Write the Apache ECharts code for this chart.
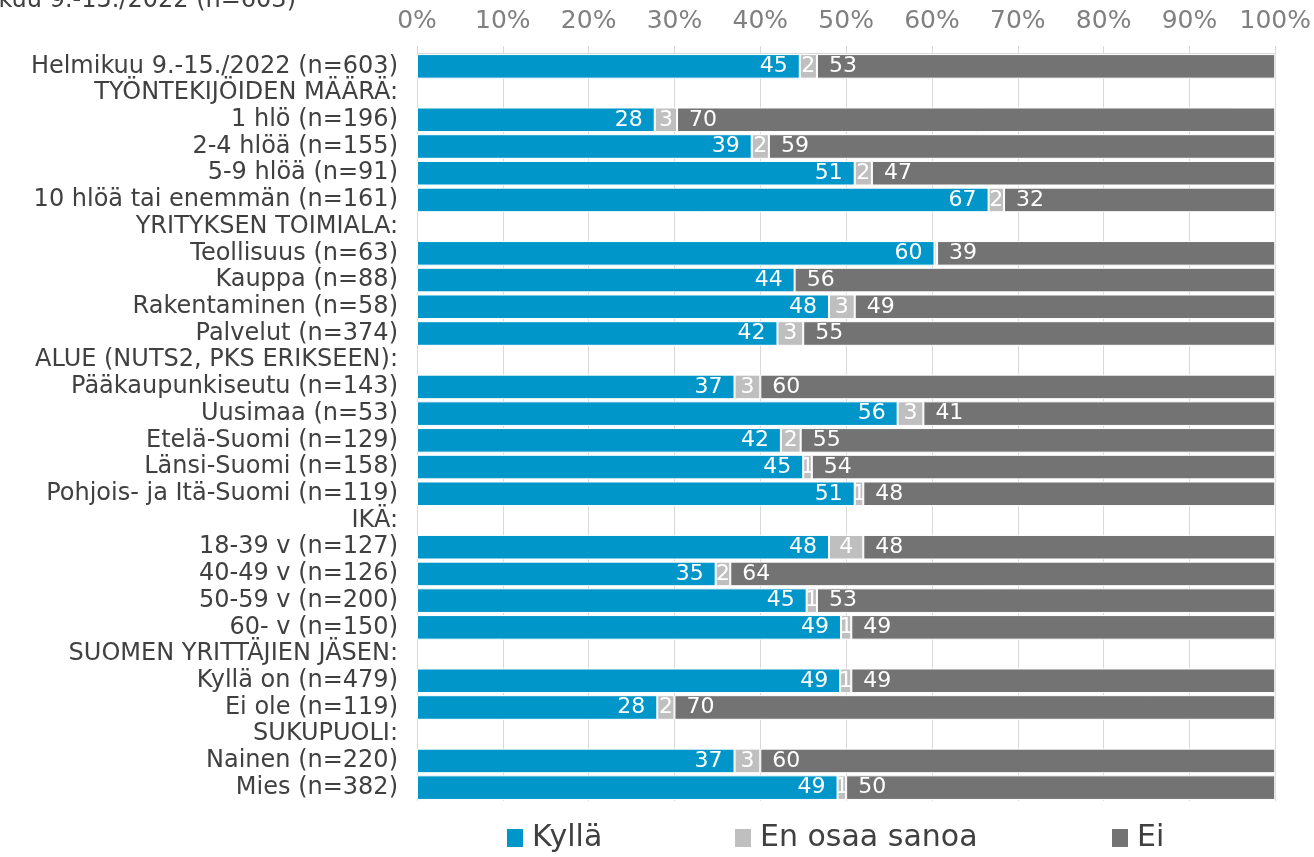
<!DOCTYPE html>
<html>
<head>
<meta charset="utf-8">
<script src="https://cdn.jsdelivr.net/npm/echarts@6/dist/echarts.min.js"></script>
<style>
  html, body { margin: 0; padding: 0; background: #fff; }
  #chart { width: 1314px; height: 857px; }
</style>
</head>
<body>
<div id="chart"></div>
<script>
var categories = [
  "Helmikuu 9.-15./2022 (n=603)",
  "TYÖNTEKIJÖIDEN MÄÄRÄ:",
  "1 hlö (n=196)",
  "2-4 hlöä (n=155)",
  "5-9 hlöä (n=91)",
  "10 hlöä tai enemmän (n=161)",
  "YRITYKSEN TOIMIALA:",
  "Teollisuus (n=63)",
  "Kauppa (n=88)",
  "Rakentaminen (n=58)",
  "Palvelut (n=374)",
  "ALUE (NUTS2, PKS ERIKSEEN):",
  "Pääkaupunkiseutu (n=143)",
  "Uusimaa (n=53)",
  "Etelä-Suomi (n=129)",
  "Länsi-Suomi (n=158)",
  "Pohjois- ja Itä-Suomi (n=119)",
  "IKÄ:",
  "18-39 v (n=127)",
  "40-49 v (n=126)",
  "50-59 v (n=200)",
  "60- v (n=150)",
  "SUOMEN YRITTÄJIEN JÄSEN:",
  "Kyllä on (n=479)",
  "Ei ole (n=119)",
  "SUKUPUOLI:",
  "Nainen (n=220)",
  "Mies (n=382)"
];

// percentages, estimated unrounded; "-" = header row without a bar
var kylla  = [44.6, "-", 27.7, 39, 51, 66.6, "-", 60.3, 44, 48, 42, "-", 37, 56, 42.4, 45, 51, "-", 48, 34.8, 45.4, 49.4, "-", 49.3, 28, "-", 37, 49];
var enOsaa = [2.0, "-", 2.6, 2, 2, 1.8, "-", 0.3, 0, 3, 3, "-", 3, 3, 2.3, 1, 1, "-", 4, 1.7, 1.2, 1.2, "-", 1.3, 2, "-", 3, 1];
var ei     = [53.4, "-", 69.7, 59, 47, 31.6, "-", 39.4, 56, 49, 55, "-", 60, 41, 55.3, 54, 48, "-", 48, 63.5, 53.4, 49.4, "-", 49.4, 70, "-", 60, 50];

var legendNames = ["Kyllä", "En osaa sanoa", "Ei"];
var colors = ["#0096c9", "#bfbfbf", "#737373"];

var FONT = "DejaVu Sans";

function lbl(v) {
  var n = Math.round(v.value);
  return n > 0 ? String(n) : "";
}

function barSeries(name, data, color, pos) {
  return {
    name: name,
    type: "bar",
    stack: "total",
    data: data,
    barCategoryGap: "8%",
    itemStyle: { color: color, borderColor: "#ffffff", borderWidth: 1 },
    label: {
      show: true,
      position: pos,
      distance: pos === "inside" ? 5 : 12,
      color: "#ffffff",
      fontFamily: FONT,
      fontSize: 22,
      formatter: lbl
    },
    emphasis: { disabled: true }
  };
}

function legendAt(name, x) {
  return {
    left: x,
    top: 823,
    padding: 0,
    itemWidth: 16,
    itemHeight: 18,
    icon: "rect",
    selectedMode: false,
    itemStyle: { borderWidth: 0 },
    textStyle: { fontFamily: FONT, fontSize: 30, color: "#404040", padding: [0, 0, 0, 4] },
    data: [name]
  };
}

var myChart = echarts.init(document.getElementById("chart"));

var option = {
  animation: false,
  backgroundColor: "#ffffff",
  grid: { left: 417, right: 37, top: 53, bottom: 56, containLabel: false },
  graphic: [
    {
      type: "text",
      right: 1314 - 296,
      top: -11,
      style: {
        text: "Helmikuu 9.-15./2022 (n=603)",
        fontFamily: FONT,
        fontSize: 24,
        fill: "#404040"
      }
    }
  ],
  legend: [
    legendAt(legendNames[0], 507),
    legendAt(legendNames[1], 735),
    legendAt(legendNames[2], 1112)
  ],
  xAxis: {
    type: "value",
    position: "top",
    min: 0,
    max: 100,
    interval: 10,
    axisLine: { show: true, lineStyle: { color: "#d9d9d9" } },
    axisTick: { show: true, length: 7, lineStyle: { color: "#d9d9d9" } },
    splitLine: { show: true, lineStyle: { color: "#d9d9d9", width: 1 } },
    axisLabel: {
      margin: 19,
      color: "#808080",
      fontFamily: FONT,
      fontSize: 25,
      formatter: "{value}%"
    }
  },
  yAxis: {
    type: "category",
    inverse: true,
    data: categories,
    axisLine: { show: false },
    axisTick: { show: false },
    axisLabel: {
      margin: 19,
      color: "#404040",
      fontFamily: FONT,
      fontSize: 24,
      interval: 0
    }
  },
  series: [
    barSeries(legendNames[0], kylla, colors[0], "insideRight"),
    barSeries(legendNames[1], enOsaa, colors[1], "inside"),
    barSeries(legendNames[2], ei, colors[2], "insideLeft")
  ]
};

myChart.setOption(option);
</script>
</body>
</html>
